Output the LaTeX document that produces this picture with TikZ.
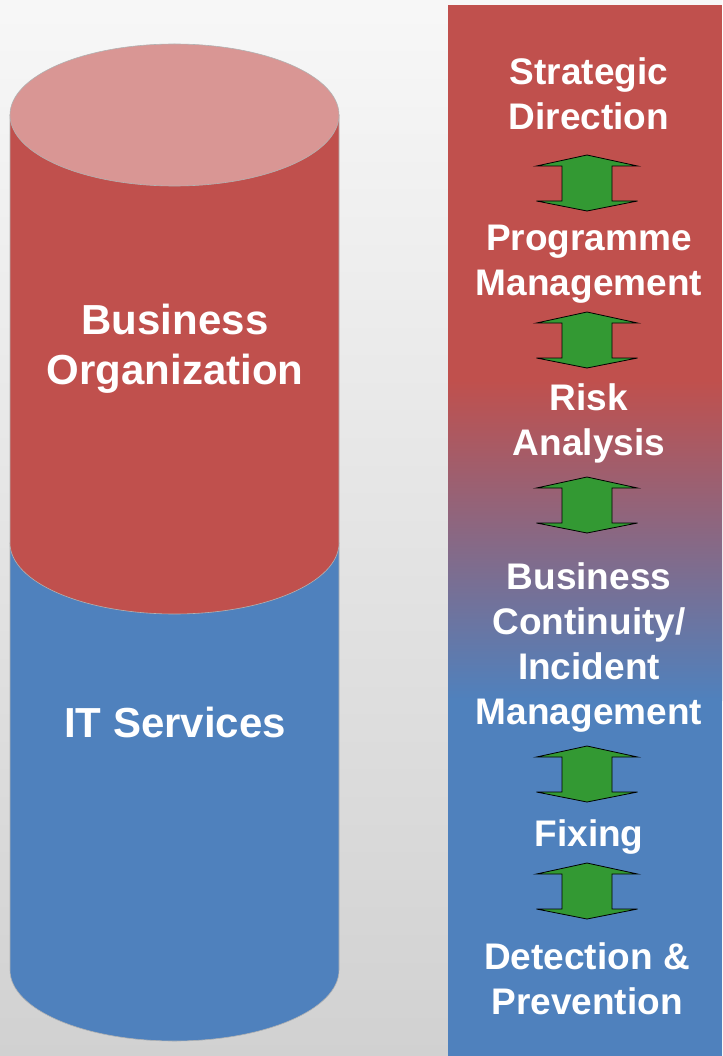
\documentclass[tikz,border=0pt]{standalone}
\usepackage{fontspec}
\setmainfont{Liberation Sans}
\usepackage{xcolor}
\usepackage{tikz}

\definecolor{bizred}{HTML}{C0504D}
\definecolor{biztop}{HTML}{D99694}
\definecolor{itblue}{HTML}{4F81BD}
\definecolor{arrowgreen}{HTML}{339933}

\tikzset{
    steptext/.style={text=white, align=center,
        font=\bfseries\fontsize{37}{45}\selectfont},
    cyltext/.style={text=white, align=center,
        font=\bfseries\fontsize{42}{50}\selectfont},
    updown/.pic={
        \draw[fill=arrowgreen, line width=0.8pt]
            (0,-28) -- (50.5,-17) -- (25,-17) -- (25,18) -- (50.5,18)
            -- (0,28) -- (-50.5,18) -- (-25,18) -- (-25,-17) -- (-50.5,-17) -- cycle;
    },
}

\begin{document}
\begin{tikzpicture}[x=1pt, y=-1pt]
    % backdrop
    \useasboundingbox (0,0) rectangle (722,1056);
    \shade[top color=black!3, bottom color=black!18] (0,0) rectangle (722,1056);

    % cylinder: IT part below, business part above
    \path[fill=itblue, draw=gray!60, line width=0.6pt] (10,543) -- (10,970)
        arc[start angle=180, end angle=360, x radius=164.5pt, y radius=71pt]
        -- (339,543) -- cycle;
    \path[fill=bizred, draw=gray!60, line width=0.6pt] (10,115) -- (10,543)
        arc[start angle=180, end angle=360, x radius=164.5pt, y radius=71pt]
        -- (339,115) -- cycle;
    \draw[fill=biztop, draw=gray!60, line width=0.6pt] (174.5,115)
        ellipse[x radius=164.5pt, y radius=71pt];

    \node [cyltext] (business) at (175,349) {Business\\Organization};
    \node [cyltext] (itservices) at (175,722) {IT Services};

    % column of steps
    \fill[bizred] (448,5) rectangle (722,380.5);
    \shade[top color=bizred, bottom color=itblue] (448,380) rectangle (722,700.5);
    \fill[itblue] (448,700) rectangle (722,1056);

    \node [steptext] (strategic) at (589,94) {Strategic\\Direction};
    \node [steptext] (programme) at (589,264.5) {Programme\\Management};
    \node [steptext] (risk) at (589,423.5) {Risk\\Analysis};
    \node [steptext] (continuity) at (589,648) {Business\\Continuity/\\Incident\\Management};
    \node [steptext] (fixing) at (589,837) {Fixing};
    \node [steptext] (detection) at (587,979) {Detection \&\\Prevention};

    % two-way arrows between the steps
    \foreach \y in {183,340,505,774,891}
        \pic at (587,\y) {updown};
\end{tikzpicture}
\end{document}
